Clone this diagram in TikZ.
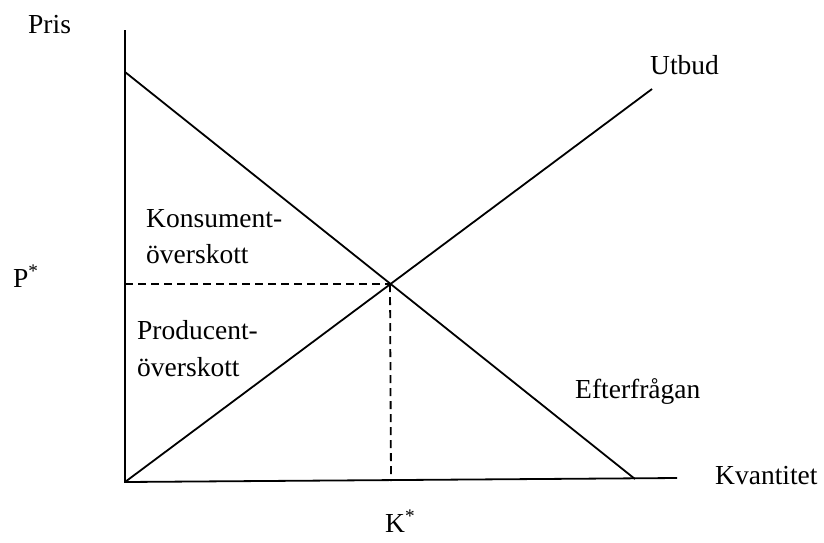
\documentclass[tikz,border=0pt]{standalone}
\usepackage{fontspec}
\setmainfont{Liberation Serif}
\begin{document}
\begin{tikzpicture}[x=1pt,y=-1pt,
  lbl/.style={anchor=base west, inner sep=0pt, font=\fontsize{27.5}{32}\selectfont},
  ax/.style={line width=1.8pt},
  dsh/.style={line width=1.8pt, dash pattern=on 8pt off 5pt}]
\useasboundingbox (0,0) rectangle (824,542);
\coordinate (O) at (125,482);
\coordinate (ytop) at (125,30);
\coordinate (xend) at (677,478);
\coordinate (dtop) at (125,72);
\coordinate (dend) at (635,479);
\coordinate (send) at (652,89);
\coordinate (E) at (390,284);
\coordinate (P) at (125,284);
\coordinate (K) at (391,481);
\draw[ax] (ytop) -- (O) -- (xend);
\draw[ax] (dtop) -- (dend);
\draw[ax] (O) -- (send);
\draw[dsh] (P) -- (E);
\draw[dsh] (E) -- (K);
\node[lbl] (pris) at (28,33) {Pris};
\node[lbl] (utbud) at (650,74) {Utbud};
\node[lbl] (k1) at (146,227) {Konsument-};
\node[lbl] (k2) at (146,263) {överskott};
\node[lbl] (pstar) at (13,287) {P\textsuperscript{*}};
\node[lbl] (p1) at (137,339) {Producent-};
\node[lbl] (p2) at (137,376) {överskott};
\node[lbl] (eft) at (575,398) {Efterfrågan};
\node[lbl] (kv) at (715,484) {Kvantitet};
\node[lbl] (kstar) at (385,532) {K\textsuperscript{*}};
\end{tikzpicture}
\end{document}
